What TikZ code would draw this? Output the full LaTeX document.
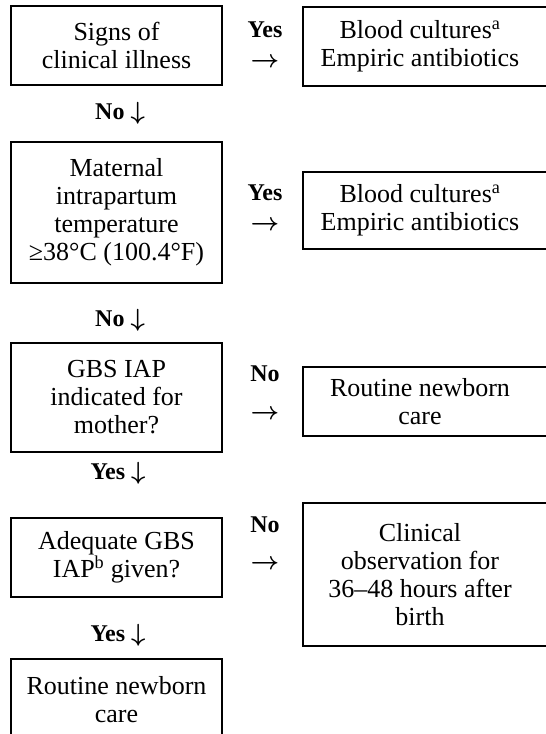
\documentclass[tikz,border=0pt]{standalone}
\usepackage{fontspec}
\setmainfont{Liberation Serif}
\newcommand{\rarr}{{\boldmath$\rightarrow$}}
\newcommand{\darr}{{\boldmath$\downarrow$}}
\begin{document}
\begin{tikzpicture}[x=1pt,y=-1pt,
  boxbase/.style={draw, line width=1.2pt, inner sep=0pt, align=center,
    font=\fontsize{26}{28}\selectfont},
  lbox/.style={boxbase, minimum width=211pt},
  rbox/.style={boxbase, minimum width=257pt},
  txt/.style={inner sep=0pt, align=center, font=\fontsize{26}{28}\selectfont},
  lbl/.style={inner sep=0pt, align=center, font=\bfseries\fontsize{24}{26}\selectfont},
  arr/.style={inner sep=0pt, font=\fontsize{25}{26}\selectfont}]
\useasboundingbox (0,0) rectangle (546,734);
\clip (0,0) rectangle (546,734);
\fill[white] (0,0) rectangle (546,734);
% left column
\node[lbox, minimum height=79pt]  (a) at (116.5,45.5)  {Signs of\\clinical illness};
\node[lbox, minimum height=141pt] (b) at (116.5,212.5) {Maternal\\intrapartum\\temperature\\≥38°C (100.4°F)};
\node[lbox, minimum height=109pt] (c) at (116.5,397.5) {GBS IAP\\indicated for\\mother?};
\node[lbox, minimum height=79pt]  (d) at (116.5,557.5) {Adequate GBS\\IAP\textsuperscript{b} given?};
\node[lbox, minimum height=82pt]  (e) at (116.5,700)   {Routine newborn\\care};
% right column boxes
\node[rbox, minimum height=79pt]  (f) at (431.5,46.5)  {};
\node[rbox, minimum height=77pt]  (g) at (431.5,210.5) {};
\node[rbox, minimum height=69pt]  (h) at (431.5,401.5) {};
\node[rbox, minimum height=143pt] (k) at (431.5,574.5) {};
\node[txt] (ft) at (420,46.5)  {Blood cultures\textsuperscript{a}\\Empiric antibiotics};
\node[txt] (gt) at (420,210.5) {Blood cultures\textsuperscript{a}\\Empiric antibiotics};
\node[txt] (ht) at (420,401.5) {Routine newborn\\care};
\node[txt] (kt) at (420,574.5) {Clinical\\observation for\\36–48 hours after\\birth};
% decision labels
\node[lbl] (y1) at (265,30)  {Yes};
\node[arr] (y1a) at (265,63) {\rarr};
\node[lbl] (n1) at (120,113) {No \darr};
\node[lbl] (y2) at (265,193) {Yes};
\node[arr] (y2a) at (265,226) {\rarr};
\node[lbl] (n2) at (120,320) {No \darr};
\node[lbl] (n3) at (265,374) {No};
\node[arr] (n3a) at (265,415) {\rarr};
\node[lbl] (y3) at (118,473) {Yes \darr};
\node[lbl] (n4) at (265,525) {No};
\node[arr] (n4a) at (265,565) {\rarr};
\node[lbl] (y4) at (118,635) {Yes \darr};
\end{tikzpicture}
\end{document}
